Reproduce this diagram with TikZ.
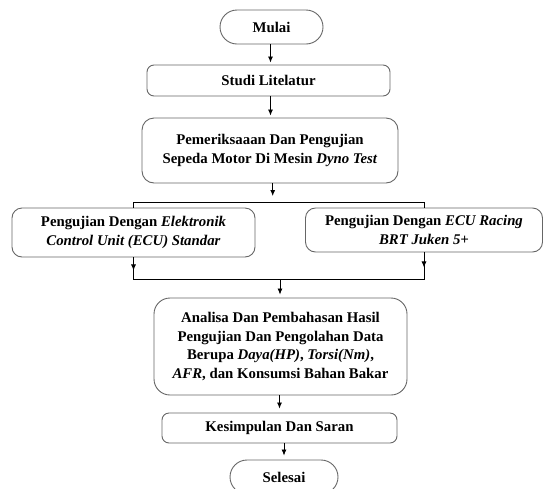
\documentclass[tikz,border=0pt]{standalone}
\usepackage{fontspec}
\setmainfont{Liberation Serif}
\usepackage{tikz}
\usetikzlibrary{arrows.meta}

\tikzset{
    box/.style={draw=black!60, line width=0.9pt, rounded corners=9pt, align=center, inner sep=0pt,
        font=\fontsize{14.8}{18.5}\selectfont\bfseries},
    term/.style={box, rounded corners=17pt},
    garis/.style={line width=0.8pt},
    panah/.style={garis, -{Latex[length=6pt,width=5pt]}},
}

\begin{document}
\begin{tikzpicture}[x=1pt, y=-1pt]
        \useasboundingbox (0,0) rectangle (543,488);
        \clip (0,0) rectangle (543,488);

        \node[term, minimum width=103pt, minimum height=34pt] (mulai) at (271.5,27) {Mulai};
        \node[box, rounded corners=7pt, minimum width=243pt, minimum height=31pt] (studi) at (268.5,80.5) {Studi Litelatur};
        \node[box, rounded corners=12pt, minimum width=256pt, minimum height=65pt] (periksa) at (270,150.5)
            {Pemeriksaaan Dan Pengujian\\Sepeda Motor Di Mesin \textit{Dyno Test}};
        \node[box, rounded corners=10pt, minimum width=243pt, minimum height=49pt] (kiri) at (133.5,232.5)
            {Pengujian Dengan \textit{Elektronik}\\\textit{Control Unit (ECU) Standar}};
        \node[box, rounded corners=10pt, minimum width=237pt, minimum height=44pt] (kanan) at (424,230)
            {Pengujian Dengan \textit{ECU Racing}\\\textit{BRT Juken 5+}};
        \node[box, rounded corners=16pt, minimum width=253pt, minimum height=97pt] (analisa) at (280.5,346.5)
            {Analisa Dan Pembahasan Hasil\\Pengujian Dan Pengolahan Data\\Berupa \textit{Daya(HP)}, \textit{Torsi(Nm)},\\\textit{AFR}, dan Konsumsi Bahan Bakar};
        \node[box, rounded corners=7pt, minimum width=235pt, minimum height=30pt] (simpul) at (279.5,428) {Kesimpulan Dan Saran};
        \node[term, minimum width=108pt, minimum height=34pt] (selesai) at (284,477) {Selesai};

        \coordinate (cabang) at (272.7,202);
        \coordinate (gabung) at (280,279);

        \draw[panah, shorten >=2pt] ([xshift=-1pt]mulai.south) -- ([xshift=-1pt]mulai.south |- studi.north);
        \draw[panah, shorten >=2pt] ([xshift=2pt]studi.south) -- ([xshift=2pt]studi.south |- periksa.north);
        \draw[panah, shorten >=6pt] (periksa.south -| cabang) -- (cabang);
        \draw[garis] (kiri.north) -- (kiri.north |- cabang) -| (kanan.north);

        \draw[panah] (kiri.south) -- ++(0,13);
        \draw[panah] (kanan.south) -- ++(0,15);
        \draw[garis] (kiri.south) -- (kiri.south |- gabung) -| (kanan.south);
        \draw[panah, shorten >=3pt] (gabung) -- (gabung |- analisa.north);

        \draw[panah, shorten >=4pt] (analisa.south -| simpul) -- (simpul);
        \draw[panah, shorten >=4pt] (simpul.south -| selesai) -- (selesai);
\end{tikzpicture}
\end{document}
